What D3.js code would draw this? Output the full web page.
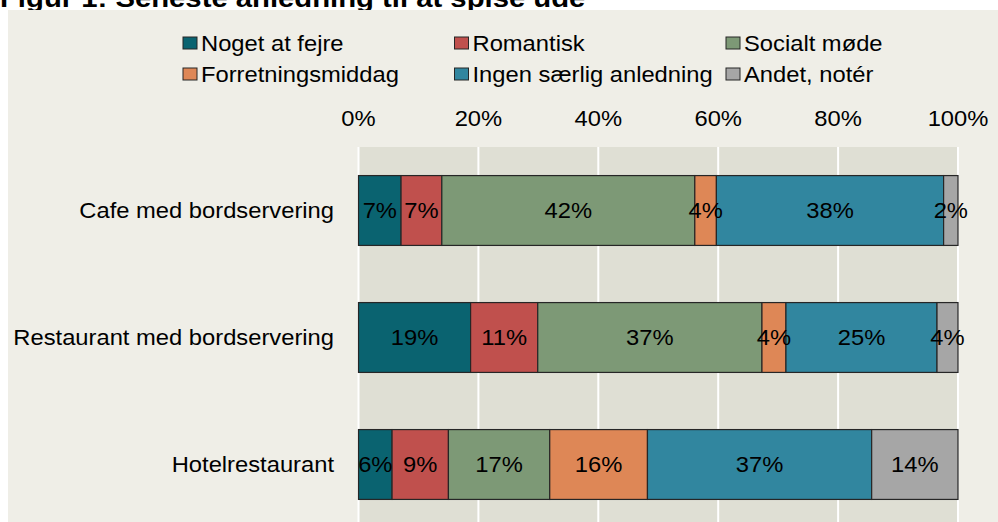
<!DOCTYPE html>
<html>
<head>
<meta charset="utf-8">
<script src="https://cdn.jsdelivr.net/npm/d3@7"></script>
<style>
  html, body { margin: 0; padding: 0; background: #ffffff; }
  svg { display: block; }
  text { font-family: "Liberation Sans", Arial, sans-serif; fill: #000; }
</style>
</head>
<body>
<svg id="chart" width="998" height="522"></svg>
<script>
const title = "Figur 1: Seneste anledning til at spise ude";
const categories = ["Cafe med bordservering", "Restaurant med bordservering", "Hotelrestaurant"];
const seriesNames = ["Noget at fejre", "Romantisk", "Socialt møde", "Forretningsmiddag", "Ingen særlig anledning", "Andet, notér"];
const seriesColors = ["#0A6370", "#C0504D", "#7D9976", "#DE8756", "#31869F", "#A6A6A6"];
const nogetAtFejre      = [7.1, 18.7, 5.6];
const romantisk         = [6.8, 11.2, 9.4];
const socialtMode       = [42.2, 37.4, 16.9];
const forretningsmiddag = [3.6, 4.0, 16.3];
const ingenSaerlig      = [37.9, 25.2, 37.4];
const andet             = [2.4, 3.5, 14.4];
const tickValues = [0, 20, 40, 60, 80, 100];

const seriesValues = [nogetAtFejre, romantisk, socialtMode, forretningsmiddag, ingenSaerlig, andet];
const rows = categories.map((c, i) => {
  const r = { category: c };
  seriesNames.forEach((s, j) => { r[s] = seriesValues[j][i]; });
  return r;
});

const svg = d3.select("#chart");
const SX = 1.105; // horizontal text stretch seen in the reference
const FS = 21.5;

function stretchedText(g, x, y, str, anchor, size, weight) {
  return g.append("text")
    .attr("transform", `translate(${x},${y}) scale(${SX},1)`)
    .attr("text-anchor", anchor)
    .style("font-size", size + "px")
    .style("font-weight", weight || "normal")
    .text(str);
}

// title (partly hidden by panel)
stretchedText(svg, 0, 7, title, "start", 26.5, "bold");

// panel background
svg.append("rect").attr("x", 8).attr("y", 10).attr("width", 990).attr("height", 512).attr("fill", "#EFEEE7");

const x = d3.scaleLinear().domain([0, 100]).range([358.5, 958]);
const y = d3.scaleBand().domain(categories).range([147, 528]).paddingInner(0.45).paddingOuter(0.225);

// plot background
svg.append("rect").attr("x", x(0)).attr("y", 147).attr("width", x(100) - x(0)).attr("height", 400).attr("fill", "#DFDFD4");

// gridlines
svg.append("g").selectAll("line").data(tickValues).join("line")
  .attr("x1", d => x(d)).attr("x2", d => x(d))
  .attr("y1", 147).attr("y2", 522)
  .attr("stroke", "#ffffff").attr("stroke-width", 2);

// top axis labels
const axisG = svg.append("g");
tickValues.forEach(t => stretchedText(axisG, x(t), 126, t + "%", "middle", FS));

// stacked bars
const stack = d3.stack().keys(seriesNames);
const stacked = stack(rows);

const barsG = svg.append("g");
stacked.forEach((layer, j) => {
  barsG.append("g").selectAll("rect").data(layer).join("rect")
    .attr("x", d => x(d[0]))
    .attr("y", d => y(d.data.category))
    .attr("width", d => x(d[1]) - x(d[0]))
    .attr("height", y.bandwidth())
    .attr("fill", seriesColors[j])
    .attr("stroke", "#262626")
    .attr("stroke-width", 1.2);
});

// value labels
const labG = svg.append("g");
stacked.forEach(layer => {
  layer.forEach(d => {
    const cx = (x(d[0]) + x(d[1])) / 2;
    const cy = y(d.data.category) + y.bandwidth() / 2 + 7.5;
    stretchedText(labG, cx, cy, d3.format(".0f")(d[1] - d[0]) + "%", "middle", FS);
  });
});

// category labels
const catG = svg.append("g");
categories.forEach(c => stretchedText(catG, 334, y(c) + y.bandwidth() / 2 + 7.5, c, "end", FS));

// legend
const legG = svg.append("g");
seriesNames.forEach((s, i) => {
  const col = i % 3, row = Math.floor(i / 3);
  const lx = 183 + col * 271.5;
  const ly = 37 + row * 31;
  legG.append("rect").attr("x", lx).attr("y", ly).attr("width", 14).attr("height", 12)
    .attr("fill", seriesColors[i]).attr("stroke", "#262626").attr("stroke-width", 1);
  stretchedText(legG, lx + 18, ly + 13.5, s, "start", FS);
});
</script>
</body>
</html>
